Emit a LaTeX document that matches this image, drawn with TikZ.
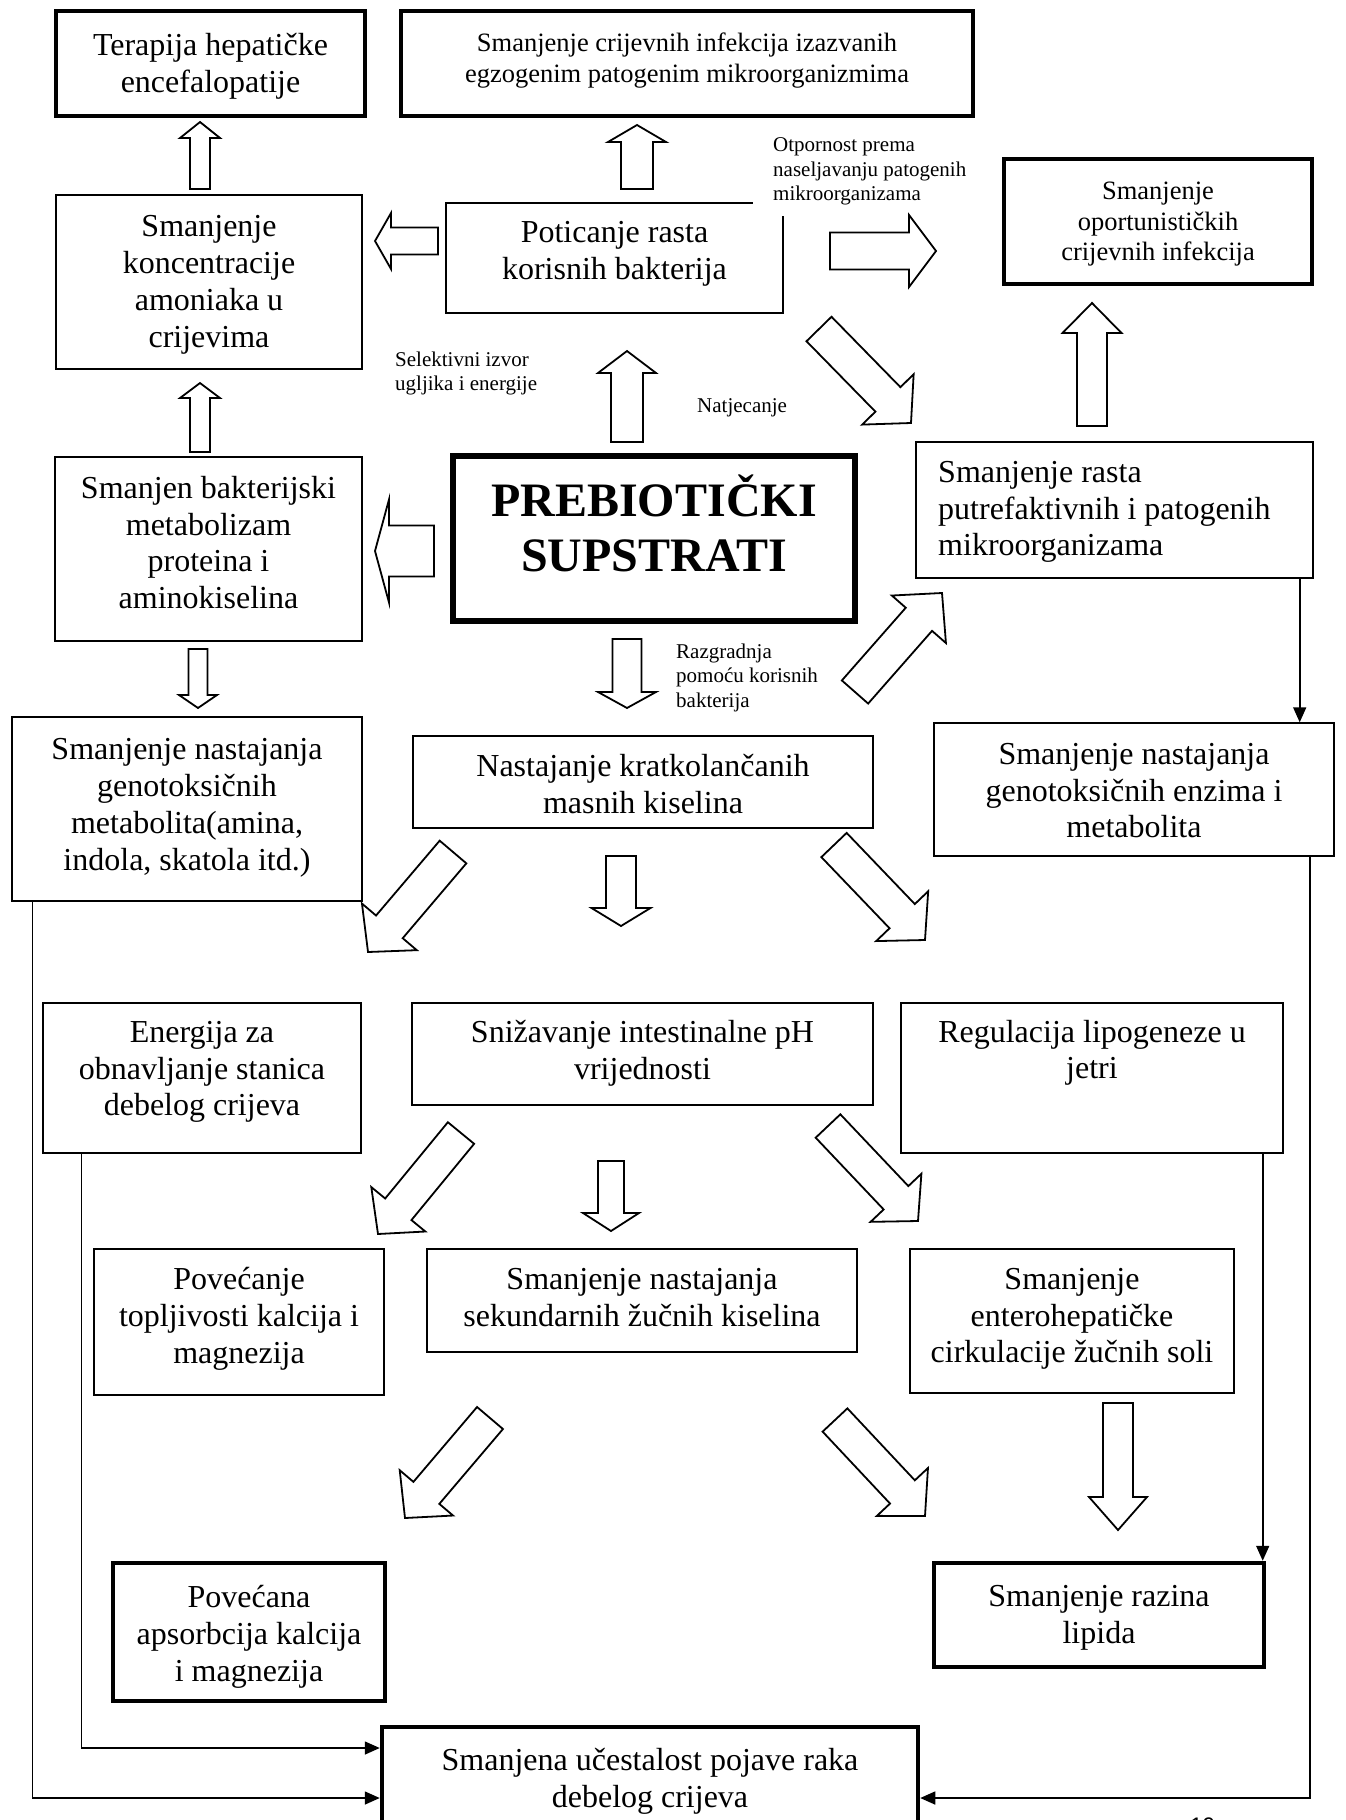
\documentclass[tikz,border=0pt]{standalone}
\usepackage{fontspec}
\setmainfont{Liberation Serif}
\newfontfamily\pagefont{Liberation Sans}
\usetikzlibrary{calc,arrows.meta}
\newcommand\fbig{\fontsize{32}{36.8}\selectfont}
\newcommand\fmid{\fontsize{26.5}{30.5}\selectfont}
\newcommand\fsml{\fontsize{21}{24.5}\selectfont}
\newcommand\fttl{\fontsize{48}{55}\selectfont\bfseries}
% block arrow: tail, tip, shaft half width, head half width, head length
\newcommand\barrow[5]{%
  \coordinate (ban) at ($(#2)!#5!(#1)$);
  \draw[blk] ($(#1)!#3!90:(#2)$) -- ($(ban)!#3!-90:(#1)$) -- ($(ban)!#4!-90:(#1)$) -- (#2)
    -- ($(ban)!#4!90:(#1)$) -- ($(ban)!#3!90:(#1)$) -- ($(#1)!#3!-90:(#2)$) -- cycle;}
\tikzset{
  tbox/.style={draw, line width=1.4pt, inner sep=0pt},
  kbox/.style={draw, line width=4.5pt, inner sep=0pt},
  kboxx/.style={draw, line width=6.5pt, inner sep=0pt},
  tx/.style={align=center, inner sep=0pt, font=\fbig, yshift=-5pt,
    execute at begin node=\strut, execute at end node=\strut},
  lbl/.style={align=left, inner sep=0pt, font=\fsml, yshift=-3.5pt,
    execute at begin node=\strut, execute at end node=\strut},
  blk/.style={draw, fill=white, line width=1.8pt, line join=miter},
  conn/.style={draw, line width=1.6pt, -{Triangle[length=15pt,width=13pt]}}
}
\begin{document}
\begin{tikzpicture}[x=1pt,y=-1pt]
\fill[white] (0,0) rectangle (1346,1820);
\useasboundingbox (0,0) rectangle (1346,1820);

% ---------- boxes ----------
\node[kbox, minimum width=309, minimum height=105] (B1) at (210.5,63.5) {};
\node[tx] (B1t) at (210.5,63) {Terapija hepatičke\\encefalopatije};

\node[kbox, minimum width=572, minimum height=105] (B2) at (687,63.5) {};
\node[tx, font=\fmid] (B2t) at (687,57) {Smanjenje crijevnih infekcija izazvanih\\egzogenim patogenim mikroorganizmima};

\node[tbox, minimum width=306, minimum height=174] (B3) at (209,282) {};
\node[tx] (B3t) at (209,282) {Smanjenje\\koncentracije\\amoniaka u\\crijevima};

\node[tbox, minimum width=337, minimum height=110] (B4) at (614.5,258) {};
\node[tx] (B4t) at (614.5,251) {Poticanje rasta\\korisnih bakterija};

\node[kbox, minimum width=308, minimum height=125] (B5) at (1158,221.5) {};
\node[tx, font=\fmid] (B5t) at (1158,221) {Smanjenje\\oportunističkih\\crijevnih infekcija};

\node[kboxx, minimum width=402, minimum height=165] (B6) at (654,538.5) {};
\node[tx, font=\fttl] (B6t) at (654,526) {PREBIOTIČKI\\SUPSTRATI};

\node[tbox, minimum width=307, minimum height=184] (B7) at (208.5,549) {};
\node[tx] (B7t) at (208.5,543) {Smanjen bakterijski\\metabolizam\\proteina i\\aminokiselina};

\node[tbox, minimum width=397, minimum height=136] (B8) at (1114.5,510) {};
\node[tx, align=left, anchor=west] (B8t) at (938,509) {Smanjenje rasta\\putrefaktivnih i patogenih\\mikroorganizama};

\node[tbox, minimum width=350, minimum height=184] (B9) at (187,809) {};
\node[tx] (B9t) at (187,805) {Smanjenje nastajanja\\genotoksičnih\\metabolita(amina,\\indola, skatola itd.)};

\node[tbox, minimum width=460, minimum height=92] (B10) at (643,782) {};
\node[tx] (B10t) at (643,784) {Nastajanje kratkolančanih\\masnih kiselina};

\node[tbox, minimum width=400, minimum height=133] (B11) at (1134,789.5) {};
\node[tx] (B11t) at (1134,791) {Smanjenje nastajanja\\genotoksičnih enzima i\\metabolita};

\node[tbox, minimum width=318, minimum height=150] (B12) at (202,1078) {};
\node[tx] (B12t) at (202,1069) {Energija za\\obnavljanje stanica\\debelog crijeva};

\node[tbox, minimum width=461, minimum height=102] (B13) at (642.5,1054) {};
\node[tx] (B13t) at (642.5,1050) {Snižavanje intestinalne pH\\vrijednosti};

\node[tbox, minimum width=382, minimum height=150] (B14) at (1092,1078) {};
\node[tx] (B14t) at (1092,1050) {Regulacija lipogeneze u\\jetri};

\node[tbox, minimum width=290, minimum height=146] (B15) at (239,1322) {};
\node[tx] (B15t) at (239,1316) {Povećanje\\topljivosti kalcija i\\magnezija};

\node[tbox, minimum width=430, minimum height=103] (B16) at (642,1300.5) {};
\node[tx] (B16t) at (642,1298) {Smanjenje nastajanja\\sekundarnih žučnih kiselina};

\node[tbox, minimum width=324, minimum height=144] (B17) at (1072,1321) {};
\node[tx] (B17t) at (1072,1316) {Smanjenje\\enterohepatičke\\cirkulacije žučnih soli};

\node[kbox, minimum width=272, minimum height=138] (B18) at (249,1632) {};
\node[tx] (B18t) at (249,1634) {Povećana\\apsorbcija kalcija\\i magnezija};

\node[kbox, minimum width=330, minimum height=104] (B19) at (1099,1615) {};
\node[tx] (B19t) at (1099,1615) {Smanjenje razina\\lipida};

\node[kbox, minimum width=536, minimum height=123] (B20) at (650,1788.5) {};
\node[tx] (B20t) at (650,1778) {Smanjena učestalost pojave raka\\debelog crijeva};

% ---------- small labels ----------
\node[lbl, anchor=north west] (Lsel) at (395,348) {Selektivni izvor\\ugljika i energije};
\node[lbl, anchor=north west, fill=white, inner xsep=20pt, inner ysep=8pt] (Lotp) at (753,126) {Otpornost prema\\naseljavanju patogenih\\mikroorganizama};
\node[lbl, anchor=north west] (Lnat) at (697,392) {Natjecanje};
\node[lbl, anchor=north west] (Lraz) at (676,640) {Razgradnja\\pomoću korisnih\\bakterija};
\node[anchor=base west, inner sep=0pt, font=\pagefont\fontsize{22.5}{26}\selectfont] (pg) at (1190,1833) {19};

% ---------- block arrows ----------
\barrow{200,189}{200,122}{10pt}{20pt}{16pt}      % B3 -> B1
\barrow{637,189}{637,125}{16pt}{29pt}{17pt}      % B4 -> B2
\barrow{438,241}{375,241}{13.5pt}{28pt}{16pt}    % B4 -> B3
\barrow{830,251}{936,251}{18.5pt}{36pt}{27pt}    % Otpornost
\barrow{627,442}{627,351}{16pt}{29pt}{22pt}      % B6 -> B4
\barrow{819,329}{911,423}{17.5pt}{36pt}{33pt}    % Natjecanje
\barrow{1092,426}{1092,303}{15pt}{29.5pt}{30pt}  % B8 -> B5
\barrow{200,452}{200,383}{10pt}{20pt}{15pt}      % B7 -> B3
\barrow{434,551}{375,551}{25.5pt}{51.5pt}{14pt}  % B6 -> B7
\barrow{198,649}{198,708}{9.5pt}{19pt}{13pt}     % B7 -> B9
\barrow{627,639}{627,708}{14.5pt}{29pt}{16pt}    % B6 -> B10
\barrow{855,692}{942,593}{17.5pt}{36pt}{35pt}    % Razgradnja -> B8
\barrow{453,852}{368,952}{17.5pt}{36pt}{33pt}    % B10 -> B12
\barrow{621,856}{621,926}{15pt}{29.5pt}{18pt}    % B10 -> B13
\barrow{834,845}{925,940}{17.5pt}{36pt}{33pt}    % B10 -> B14
\barrow{461,1133}{378,1234}{17pt}{35pt}{32pt}    % B13 -> B15
\barrow{611,1161}{611,1231}{13pt}{28pt}{18pt}    % B13 -> B16
\barrow{828,1126}{918,1221}{17pt}{35pt}{32pt}    % B13 -> B17
\barrow{490,1418}{405,1518}{17pt}{35pt}{33pt}    % B16 -> B18
\barrow{835,1420}{925,1516}{17pt}{35pt}{33pt}    % B16 -> B19
\barrow{1118,1403}{1118,1530}{15pt}{29pt}{33pt}  % B17 -> B19

% ---------- line connectors ----------
\draw[conn] ([xshift=-14pt]B8.south east) -- ([xshift=-14pt]B8.south east |- B11.north);
\draw[conn] ([xshift=-21pt]B14.south east) -- ([xshift=-21pt]B14.south east |- B19.north);
\draw[conn] ([xshift=21pt]B9.south west) |- ([yshift=-9.5pt]B20.west);
\draw[conn] ([xshift=39pt]B12.south west) |- ([yshift=40.5pt]B20.west);
\draw[conn] ([xshift=-25pt]B11.south east) |- ([yshift=-9.5pt]B20.east);
\end{tikzpicture}
\end{document}
